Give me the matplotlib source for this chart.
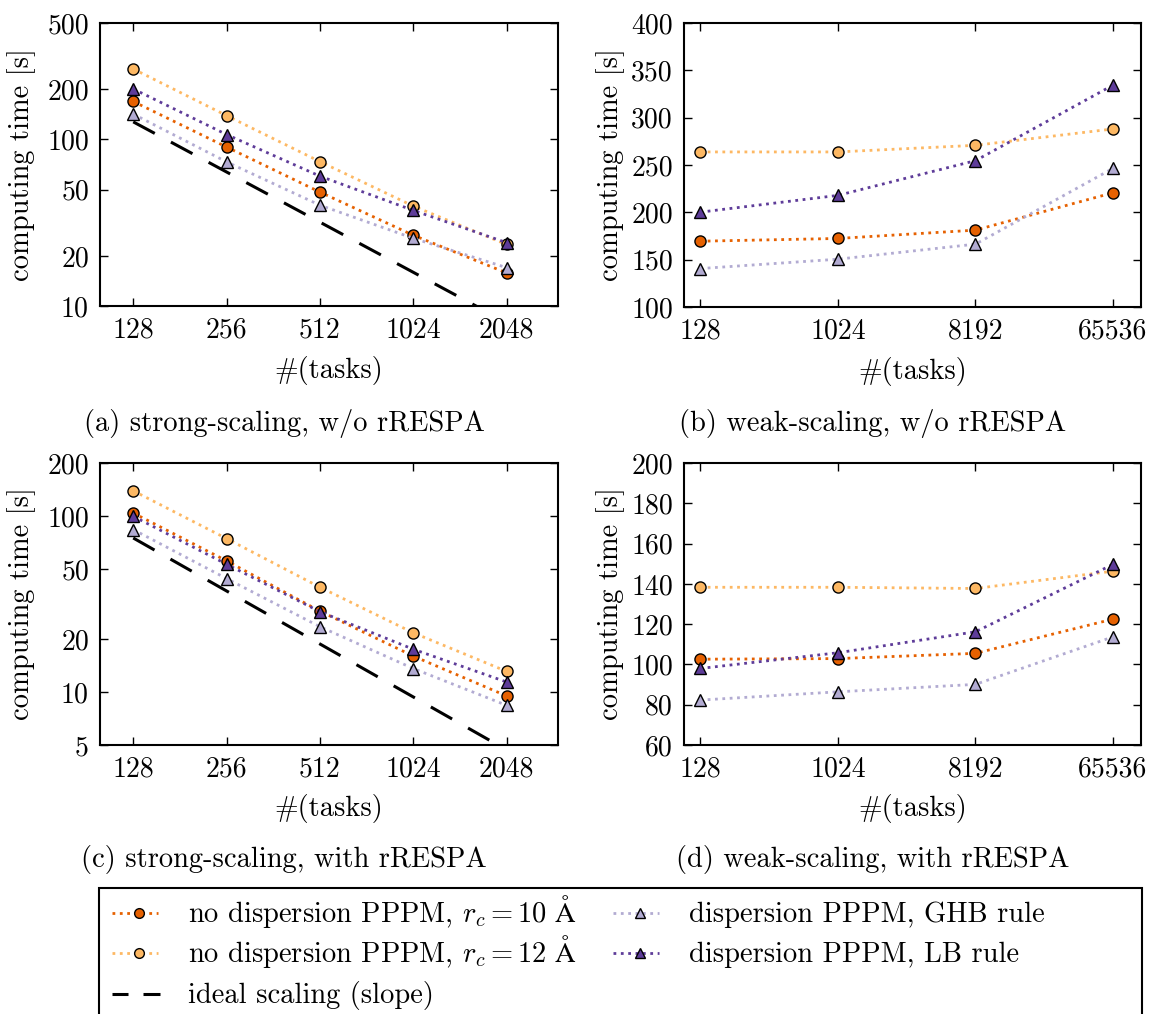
import matplotlib
matplotlib.use('Agg')
import matplotlib.pyplot as plt
from matplotlib.lines import Line2D
from matplotlib.patches import Rectangle
from matplotlib.ticker import FixedLocator, FixedFormatter, NullLocator

plt.rcParams['font.family'] = ['cmr10', 'DejaVu Serif']
plt.rcParams['mathtext.fontset'] = 'cm'
plt.rcParams['axes.formatter.use_mathtext'] = True
plt.rcParams['font.size'] = 20.5

# colours (PuOr)
C_R10 = '#e66101'
C_R12 = '#fdb863'
C_GHB = '#b2abd2'
C_LB = '#5e3c99'

# strong scaling tasks
strong_tasks = [128, 256, 512, 1024, 2048]
strong_ticks = ['128', '256', '512', '1024', '2048']
# weak scaling tasks
weak_tasks = [128, 1024, 8192, 65536]
weak_ticks = ['128', '1024', '8192', '65536']

# (a) strong-scaling, w/o rRESPA
a_r10 = [169, 90, 48.3, 26.6, 15.8]
a_r12 = [265, 139, 73.6, 39.8, 23.4]
a_ghb = [142, 73.3, 40.3, 25.5, 17.0]
a_lb = [201, 107, 60.2, 37.5, 24.0]
a_ideal_t0 = 127.5

# (b) weak-scaling, w/o rRESPA
b_r10 = [169.5, 172.4, 181.2, 220.7]
b_r12 = [263.8, 263.8, 270.8, 288.1]
b_ghb = [140.6, 150.5, 166.4, 246.5]
b_lb = [200.2, 217.9, 254.6, 334.4]

# (c) strong-scaling, with rRESPA
c_r10 = [104, 55.6, 28.8, 16.0, 9.5]
c_r12 = [139, 74.4, 39.4, 21.7, 13.1]
c_ghb = [83.7, 44.1, 23.5, 13.6, 8.4]
c_lb = [99.6, 53.2, 28.6, 17.5, 11.4]
c_ideal_t0 = 75.0

# (d) weak-scaling, with rRESPA
d_r10 = [102.6, 102.9, 105.5, 122.5]
d_r12 = [138.3, 138.3, 137.7, 146.3]
d_ghb = [82.3, 86.4, 90.1, 113.7]
d_lb = [98.0, 105.8, 116.2, 149.7]

labels = [r'no dispersion PPPM, $r_c = 10\ \mathrm{\AA}$',
          r'no dispersion PPPM, $r_c = 12\ \mathrm{\AA}$',
          'dispersion PPPM, GHB rule',
          'dispersion PPPM, LB rule',
          'ideal scaling (slope)']

W, H = 1149, 1014


def series(ax, x, y, color, marker):
    ax.plot(x, y, linestyle=':', lw=2, color=color, marker=marker, ms=8,
            mec='black', mew=1.0, mfc=color)


def panel(rect, x, ticks, r10, r12, ghb, lb, ylim, yticks, ylog, xlim, ideal=None):
    l, r, t, b = rect
    ax = fig.add_axes([l / W, 1 - b / H, (r - l) / W, (b - t) / H])
    ax.set_xscale('log', base=2)
    if ylog:
        ax.set_yscale('log')
    series(ax, x, r10, C_R10, 'o')
    series(ax, x, r12, C_R12, 'o')
    series(ax, x, ghb, C_GHB, '^')
    series(ax, x, lb, C_LB, '^')
    if ideal is not None:
        ax.plot(x, [ideal * x[0] / n for n in x], color='black', lw=2.2,
                dashes=(8, 6))
    ax.set_xlim(*xlim)
    ax.set_ylim(*ylim)
    ax.xaxis.set_major_locator(FixedLocator(x))
    ax.xaxis.set_major_formatter(FixedFormatter(ticks))
    ax.xaxis.set_minor_locator(NullLocator())
    ax.yaxis.set_major_locator(FixedLocator(yticks))
    ax.yaxis.set_major_formatter(FixedFormatter([str(v) for v in yticks]))
    ax.yaxis.set_minor_locator(NullLocator())
    ax.tick_params(direction='in', length=6, width=1, top=True, right=True, pad=8,
                   labelsize=20)
    for s in ax.spines.values():
        s.set_linewidth(1.5)
    ax.set_xlabel('#(tasks)')
    ax.set_ylabel('computing time [s]')
    return ax


fig = plt.figure(figsize=(W / 100, H / 100), dpi=100)

ax_a = panel((100, 558, 23, 306), strong_tasks, strong_ticks, a_r10, a_r12, a_ghb, a_lb,
             (10, 500), [10, 20, 50, 100, 200, 500], True, (100, 3000), a_ideal_t0)
ax_b = panel((684, 1141, 23, 307), weak_tasks, weak_ticks, b_r10, b_r12, b_ghb, b_lb,
             (100, 400), [100, 150, 200, 250, 300, 350, 400], False, (100, 1e5))
ax_c = panel((100, 558, 463, 745), strong_tasks, strong_ticks, c_r10, c_r12, c_ghb, c_lb,
             (5, 200), [5, 10, 20, 50, 100, 200], True, (100, 3000), c_ideal_t0)
ax_d = panel((684, 1141, 463, 745), weak_tasks, weak_ticks, d_r10, d_r12, d_ghb, d_lb,
             (60, 200), [60, 80, 100, 120, 140, 160, 180, 200], False, (100, 1e5))

for ax in (ax_a, ax_c):
    ax.yaxis.set_label_coords(-0.14, 0.5)
for ax in (ax_b, ax_d):
    ax.yaxis.set_label_coords(-0.13, 0.5)
for ax in (ax_a, ax_b, ax_c, ax_d):
    ax.xaxis.set_label_coords(0.5, -0.175)

fig.text(284 / W, 1 - 423 / H, '(a) strong-scaling, w/o rRESPA', ha='center', va='center')
fig.text(873 / W, 1 - 423 / H, '(b) weak-scaling, w/o rRESPA', ha='center', va='center')
fig.text(284 / W, 1 - 860 / H, '(c) strong-scaling, with rRESPA', ha='center', va='center')
fig.text(873 / W, 1 - 860 / H, '(d) weak-scaling, with rRESPA', ha='center', va='center')


# legend, laid out by hand so that rows line up across both columns
def px(x, y):
    return x / W, 1 - y / H


def legend_entry(x0, y_base, label, color=None, marker=None):
    yc = y_base - 9
    if marker is None:
        for xa, xb in ((112, 128), (143, 160)):
            (fx0, fy), (fx1, _) = px(xa, yc), px(xb, yc)
            fig.add_artist(Line2D([fx0, fx1], [fy, fy], color='black', lw=2.2,
                                  solid_capstyle='butt', transform=fig.transFigure))
    else:
        (fx0, fy), (fx1, _) = px(x0, yc), px(x0 + 46, yc)
        fig.add_artist(Line2D([fx0, fx1], [fy, fy], linestyle=':', lw=2, color=color,
                              transform=fig.transFigure))
        fm, _ = px(x0 + 27, yc)
        fig.add_artist(Line2D([fm], [fy], linestyle='none', marker=marker, ms=7,
                              mfc=color, mec='black', mew=1.0,
                              transform=fig.transFigure))
    tx, ty = px(x0 + 76, y_base)
    fig.text(tx, ty, label, ha='left', va='baseline')


legend_entry(112, 922, labels[0], C_R10, 'o')
legend_entry(112, 962, labels[1], C_R12, 'o')
legend_entry(112, 1003, labels[4])
legend_entry(613, 922, labels[2], C_GHB, '^')
legend_entry(613, 962, labels[3], C_LB, '^')

fig.add_artist(Rectangle(px(99, 1040), (1142 - 99) / W, (1040 - 888) / H,
                         transform=fig.transFigure, fill=False, lw=1.5,
                         edgecolor='black'))

fig.savefig('out.png', dpi=100)
